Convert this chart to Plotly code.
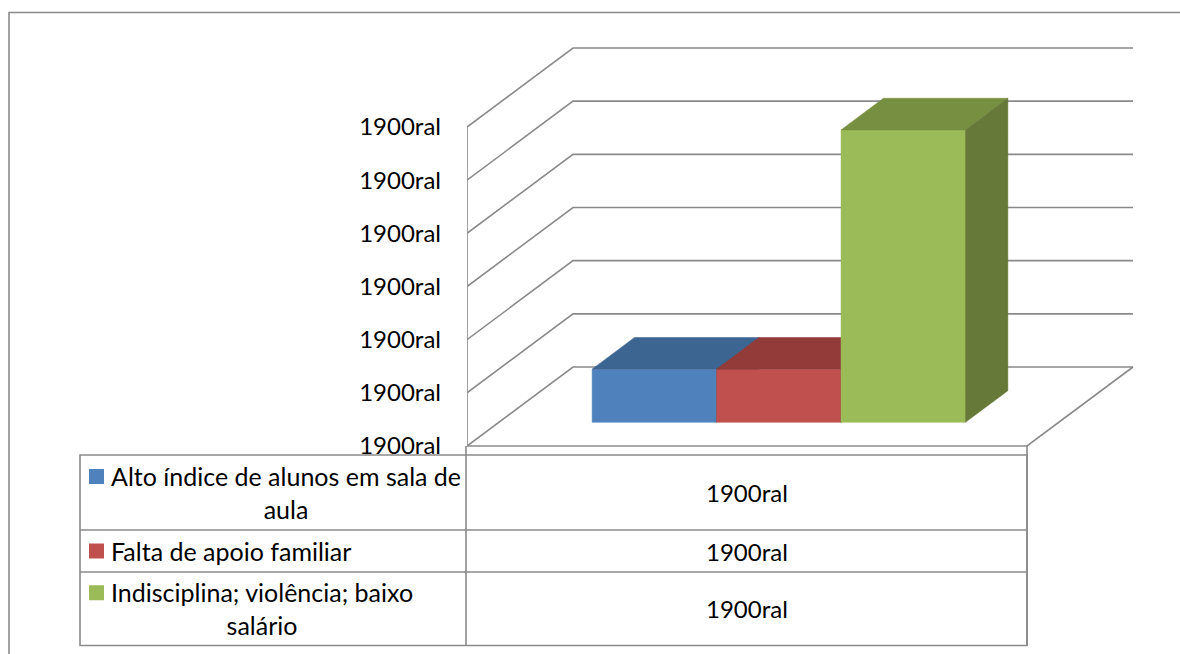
import plotly.graph_objects as go

# ---- data ---------------------------------------------------------------
series_names = [
    "Alto índice de alunos em sala de\naula",
    "Falta de apoio familiar",
    "Indisciplina; violência; baixo\nsalário",
]
values = [2, 2, 11]
value_labels = ["1900ral", "1900ral", "1900ral"]
tick_vals = [0, 2, 4, 6, 8, 10, 12]
tick_labels = ["1900ral"] * 7

front_colors = ["#4F81BD", "#C0504D", "#9BBB59"]
top_colors = ["#3D6592", "#923B39", "#778F41"]
side_colors = ["#34567C", "#7A302E", "#667938"]

# ---- oblique 3-D projection ----------------------------------------------
W, H = 1180, 654
PLOT_LEFT = 467                 # pixel where the front-left wall edge sits
PX_PER_CAT = 560.0              # pixels per category width on the x axis
PX_PER_UNIT = 319.0 / 12        # pixels per value unit
FRONT_BASE = 446.0              # pixel row of value 0 on the front plane
DEPTH_DX = 106.0 / PX_PER_CAT   # depth shift in x units
DEPTH_DY = 79.0 / PX_PER_UNIT   # depth shift in value units

x_range = [-0.5, -0.5 + (W - PLOT_LEFT) / PX_PER_CAT]
y_range = [-(H - FRONT_BASE) / PX_PER_UNIT, FRONT_BASE / PX_PER_UNIT]


def proj(x, d, v):
    return x + d * DEPTH_DX, v + d * DEPTH_DY


def poly(points):
    xs, ys = zip(*[proj(*p) for p in points])
    return list(xs) + [xs[0]], list(ys) + [ys[0]]


fig = go.Figure()
wall_color = "#8A8A8A"


def add_line(points):
    xs, ys = zip(*[proj(*p) for p in points])
    fig.add_trace(go.Scatter(x=xs, y=ys, mode="lines",
                             line=dict(color=wall_color, width=1.6),
                             hoverinfo="skip", showlegend=False))


# walls: gridlines on left wall and back wall
y_max = tick_vals[-1]
for v in tick_vals:
    add_line([(-0.5, 0, v), (-0.5, 1, v), (0.5, 1, v)])
add_line([(-0.5, 0, 0), (-0.5, 0, y_max)])
# floor outline
add_line([(-0.5, 0, 0), (0.5, 0, 0), (0.5, 1, 0)])

# bars: one category, three clustered series, gap width 150%, gap depth 150%
n = len(values)
bar_w = 1.0 / (n + 1.5)
d0, d1 = 0.3, 0.7
for i, (v, name) in enumerate(zip(values, series_names)):
    x0 = -n * bar_w / 2 + i * bar_w
    x1 = x0 + bar_w
    faces = [
        ([(x0, d0, 0), (x1, d0, 0), (x1, d0, v), (x0, d0, v)], front_colors[i]),
        ([(x0, d0, v), (x1, d0, v), (x1, d1, v), (x0, d1, v)], top_colors[i]),
        ([(x1, d0, 0), (x1, d1, 0), (x1, d1, v), (x1, d0, v)], side_colors[i]),
    ]
    for pts, col in faces:
        xs, ys = poly(pts)
        fig.add_trace(go.Scatter(x=xs, y=ys, mode="lines", fill="toself",
                                 fillcolor=col, line=dict(color=col, width=0.5),
                                 name=name.replace("\n", " "),
                                 hoverinfo="skip", showlegend=False))

# ---- data table under the plot -------------------------------------------
def xp(px):
    return (px - PLOT_LEFT) / (W - PLOT_LEFT)


def yp(py):
    return (H - py) / H


shapes = []
line_style = dict(color=wall_color, width=1.6)
# outer chart frame
shapes.append(dict(type="rect", xref="paper", yref="paper",
                   x0=xp(9), x1=xp(W + 20), y0=yp(H + 20), y1=yp(12.5),
                   line=line_style, layer="below"))

tab_left, tab_mid, tab_right = 80, 466, 1027
row_edges = [455, 530, 572, 645.5]
shapes.append(dict(type="rect", xref="paper", yref="paper",
                   x0=xp(tab_left), x1=xp(tab_right),
                   y0=yp(row_edges[-1]), y1=yp(row_edges[0]),
                   fillcolor="white", line=line_style, layer="above"))
for r in row_edges[1:-1]:
    shapes.append(dict(type="line", xref="paper", yref="paper",
                       x0=xp(tab_left), x1=xp(tab_right), y0=yp(r), y1=yp(r),
                       line=line_style, layer="above"))
for c in (tab_mid, tab_right):
    shapes.append(dict(type="line", xref="paper", yref="paper",
                       x0=xp(c), x1=xp(c), y0=yp(FRONT_BASE), y1=yp(row_edges[-1]),
                       line=line_style, layer="above"))

annotations = []
font_family = "Lato, 'Open Sans', sans-serif"
for i, name in enumerate(series_names):
    top, bottom = row_edges[i], row_edges[i + 1]
    mid = (top + bottom) / 2
    lines = name.count("\n") + 1
    first_line = mid - (lines - 1) * 16
    shapes.append(dict(type="rect", xref="paper", yref="paper",
                       x0=xp(89), x1=xp(104),
                       y0=yp(first_line + 7.5), y1=yp(first_line - 7.5),
                       fillcolor=front_colors[i], line=dict(width=0), layer="above"))
    annotations.append(dict(xref="paper", yref="paper", x=xp(109), y=yp(mid),
                            xanchor="left", yanchor="middle", align="center",
                            text=name.replace("\n", "<br>"), showarrow=False,
                            font=dict(family=font_family, size=25, color="#000000")))
    annotations.append(dict(xref="paper", yref="paper",
                            x=xp((tab_mid + tab_right) / 2), y=yp(mid),
                            xanchor="center", yanchor="middle",
                            text=value_labels[i], showarrow=False,
                            font=dict(family=font_family, size=24, color="#000000")))

fig.update_layout(
    width=W, height=H,
    margin=dict(l=PLOT_LEFT, r=0, t=0, b=0),
    paper_bgcolor="white", plot_bgcolor="rgba(0,0,0,0)",
    showlegend=False,
    xaxis=dict(range=x_range, visible=False, fixedrange=True),
    yaxis=dict(range=y_range, tickvals=tick_vals, ticktext=tick_labels,
               showgrid=False, zeroline=False, showline=False,
               ticks="", ticklabelstandoff=25, automargin=False,
               tickfont=dict(family=font_family, size=24, color="#000000"),
               fixedrange=True),
    shapes=shapes,
    annotations=annotations,
)

fig.write_html("out.html")
